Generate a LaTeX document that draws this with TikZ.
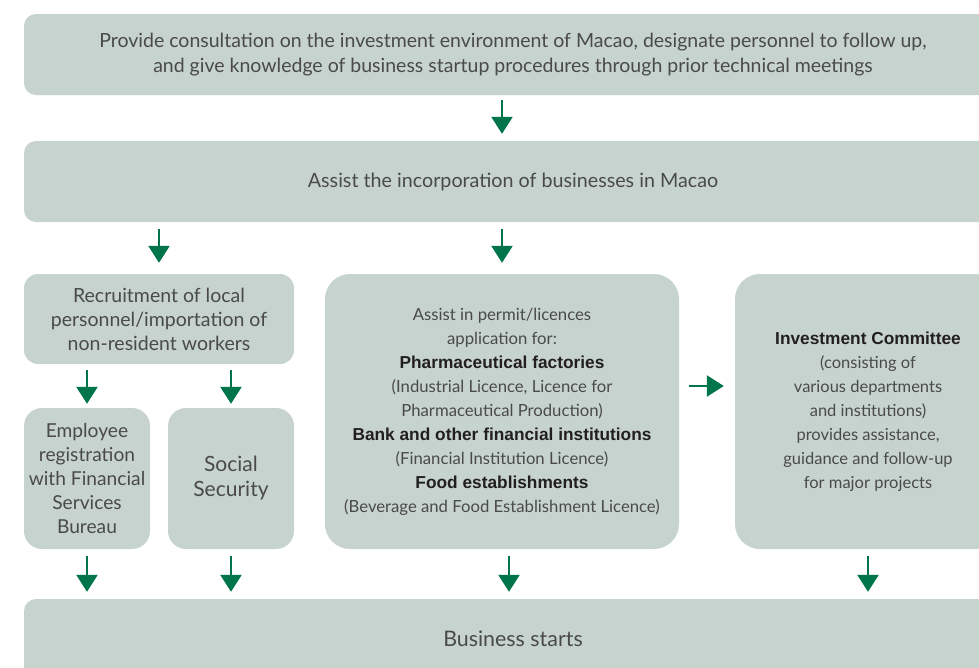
\documentclass[tikz,border=0pt]{standalone}
\usepackage{fontspec}
\setmainfont{Lato}
\newfontfamily\headfont{Liberation Sans}
\usetikzlibrary{arrows.meta}
\definecolor{boxfill}{HTML}{C6D3CE}
\definecolor{arrgreen}{HTML}{00754A}
\definecolor{txtgrey}{HTML}{4A4A4A}
\definecolor{txtdark}{HTML}{231F20}
\newcommand{\hd}[1]{{\headfont\bfseries\color{txtdark}\fontsize{17.3}{24}\selectfont #1}}
\begin{document}
\begin{tikzpicture}[x=1pt,y=-1pt,
  box/.style={fill=boxfill, rounded corners=12pt, inner sep=0pt, text=txtgrey, align=center},
  arr/.style={draw=arrgreen, line width=2.5pt, -{Triangle[length=17pt,width=21pt]}},
]
\useasboundingbox (0,0) rectangle (979,667);
\clip (0,0) rectangle (979,667);

\node[box, minimum width=978pt, minimum height=81pt, font={\fontsize{19.5}{24.5}\selectfont}] (b1) at (513,54.5)
  {Provide consultation on the investment environment of Macao, designate personnel to follow up,\\
   and give knowledge of business startup procedures through prior technical meetings};
\node[box, minimum width=978pt, minimum height=81pt, font={\fontsize{19.7}{24}\selectfont}] (b2) at (513,181.5)
  {Assist the incorporation of businesses in Macao};
\node[box, minimum width=270pt, minimum height=90pt, rounded corners=14pt, font={\fontsize{19.5}{24}\selectfont}] (b3) at (159,319)
  {Recruitment of local\\personnel/importation of\\non-resident workers};
\node[box, minimum width=354pt, minimum height=275pt, rounded corners=25pt, font={\fontsize{16.7}{24}\selectfont}] (b4) at (502,411.5)
  {Assist in permit/licences\\application for:\\\hd{Pharmaceutical factories}\\(Industrial Licence, Licence for\\Pharmaceutical Production)\\\hd{Bank and other financial institutions}\\(Financial Institution Licence)\\\hd{Food establishments}\\(Beverage and Food Establishment Licence)};
\node[box, minimum width=266pt, minimum height=275pt, rounded corners=25pt, font={\fontsize{16.5}{24}\selectfont}] (b5) at (868,411.5)
  {\hd{Investment Committee}\\(consisting of\\various departments\\and institutions)\\provides assistance,\\guidance and follow-up\\for major projects};
\node[box, minimum width=126pt, minimum height=141pt, rounded corners=18pt, font={\fontsize{19.2}{24}\selectfont}] (b6) at (87,478.5)
  {Employee\\registration\\with Financial\\Services\\Bureau};
\node[box, minimum width=126pt, minimum height=141pt, rounded corners=18pt, font={\fontsize{21}{25}\selectfont}] (b7) at (231,478.5)
  {\raisebox{0pt}[0pt][0pt]{}Social\\Security};
\node[box, minimum width=978pt, minimum height=81pt, font={\fontsize{21.4}{24}\selectfont}] (b8) at (513,639.5)
  {\raisebox{2pt}{Business starts}};
\coordinate (b4out) at ([xshift=7pt]b4.south);

\draw[arr, shorten <=5pt, shorten >=7pt] (b1.south -| b4.north) -- (b2.north -| b4.north);
\draw[arr, shorten <=7pt, shorten >=11pt] (b2.south -| b3.north) -- (b3.north);
\draw[arr, shorten <=7pt, shorten >=11pt] (b2.south -| b4.north) -- (b4.north);
\draw[arr, shorten <=6pt, shorten >=4pt] (b3.south -| b6.north) -- (b6.north);
\draw[arr, shorten <=6pt, shorten >=4pt] (b3.south -| b7.north) -- (b7.north);
\draw[arr, shorten <=10pt, shorten >=11pt] ([yshift=25.5pt]b4.east) -- ([yshift=25.5pt]b4.east -| b5.west);
\draw[arr, shorten <=7pt, shorten >=7pt] (b6.south) -- (b8.north -| b6.south);
\draw[arr, shorten <=7pt, shorten >=7pt] (b7.south) -- (b8.north -| b7.south);
\draw[arr, shorten <=7pt, shorten >=7pt] (b4out) -- (b8.north -| b4out);
\draw[arr, shorten <=7pt, shorten >=7pt] (b5.south) -- (b8.north -| b5.south);
\end{tikzpicture}
\end{document}
